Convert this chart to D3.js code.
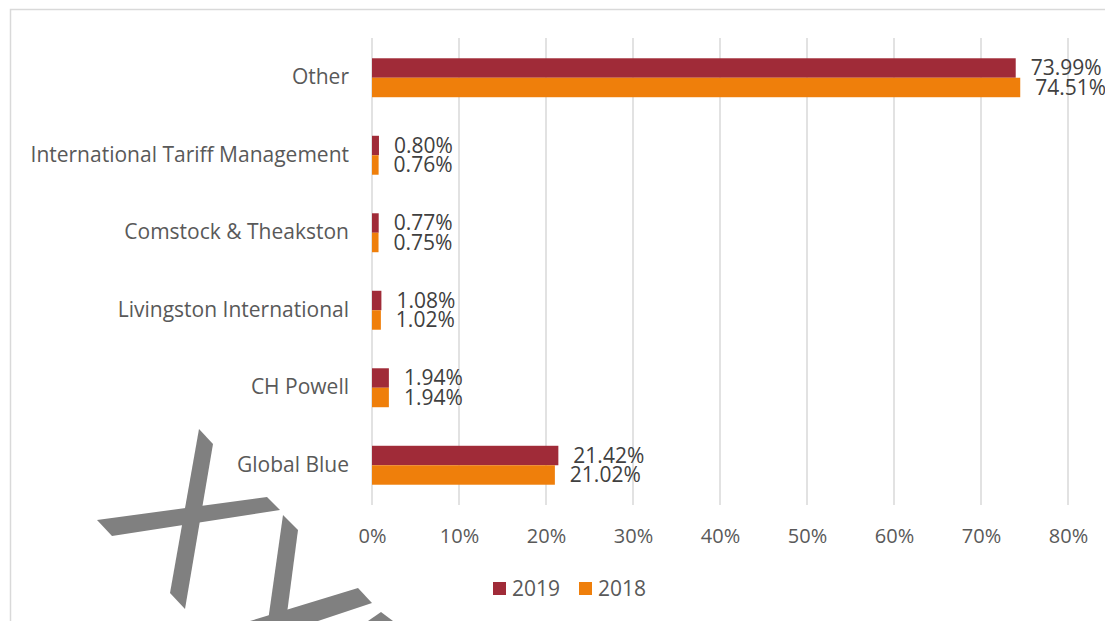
<!DOCTYPE html>
<html>
<head>
<meta charset="utf-8">
<script src="https://cdn.jsdelivr.net/npm/d3@7"></script>
<style>
  body { margin: 0; background: #fff; }
  svg { display: block; font-family: "Open Sans", "Noto Sans", sans-serif; }
</style>
</head>
<body>
<svg width="1105" height="621"></svg>
<script>
// chart values (percent)
const categories = ['Other', 'International Tariff Management', 'Comstock & Theakston',
    'Livingston International', 'CH Powell', 'Global Blue']
const years = ['2019', '2018']
const values2019 = [73.99, 0.80, 0.77, 1.08, 1.94, 21.42]
const values2018 = [74.51, 0.76, 0.75, 1.02, 1.94, 21.02]
const xTicks = [0, 10, 20, 30, 40, 50, 60, 70, 80]

const colors = { '2019': '#a02b38', '2018': '#ef7f0b' }

const svg = d3.select('svg')

// outer chart frame
svg.append('rect')
    .attr('x', 10.5).attr('y', 9.5)
    .attr('width', 1200).attr('height', 700)
    .attr('fill', 'none')
    .attr('stroke', '#d9d9d9')
    .attr('stroke-width', 1.5)

const x = d3.scaleLinear().domain([0, 80]).range([372, 1068])
const y = d3.scaleBand().domain(categories).range([39, 504])
const sub = d3.scaleBand().domain(years).range([0, y.bandwidth()])
    .paddingInner(0)
    .paddingOuter(0.99)

// gridlines
svg.append('g')
    .selectAll('line')
    .data(xTicks)
    .enter()
    .append('line')
    .attr('x1', d => x(d)).attr('x2', d => x(d))
    .attr('y1', 38).attr('y2', 505)
    .attr('stroke', '#d9d9d9')
    .attr('stroke-width', 1.5)

// x axis labels
const xAxis = d3.axisBottom(x).tickValues(xTicks).tickFormat(d => d + '%').tickSize(0).tickPadding(0)
const gx = svg.append('g').attr('transform', 'translate(0, 529)').call(xAxis)
gx.select('.domain').remove()
gx.selectAll('text')
    .attr('fill', '#595959')
    .attr('font-size', 20)
    .attr('font-family', '"Open Sans", sans-serif')

// category labels
const yAxis = d3.axisLeft(y).tickSize(0).tickPadding(0)
const gy = svg.append('g').attr('transform', 'translate(349, 0)').call(yAxis)
gy.select('.domain').remove()
gy.selectAll('text')
    .attr('fill', '#595959')
    .attr('font-size', 21)
    .attr('font-family', '"Open Sans", sans-serif')

const rows = categories.map((c, i) => ({
    category: c,
    bars: [
        { year: '2019', value: values2019[i] },
        { year: '2018', value: values2018[i] }
    ]
}))

const group = svg.append('g')
    .selectAll('g.row')
    .data(rows)
    .enter()
    .append('g')
    .attr('class', 'row')
    .attr('transform', d => `translate(0, ${y(d.category)})`)

group.selectAll('rect')
    .data(d => d.bars)
    .enter()
    .append('rect')
    .attr('x', x(0))
    .attr('y', d => sub(d.year))
    .attr('width', d => x(d.value) - x(0))
    .attr('height', sub.bandwidth())
    .attr('fill', d => colors[d.year])

group.selectAll('text')
    .data(d => d.bars)
    .enter()
    .append('text')
    .attr('x', d => x(d.value) + 15)
    .attr('y', d => sub(d.year) + sub.bandwidth() / 2)
    .attr('dy', '0.35em')
    .attr('fill', '#404040')
    .attr('font-size', 21)
    .text(d => d.value.toFixed(2) + '%')

// legend
const legend = svg.append('g').attr('transform', 'translate(493, 582)')
const legendItem = legend.selectAll('g')
    .data(years)
    .enter()
    .append('g')
    .attr('transform', (d, i) => `translate(${i * 86}, 0)`)
legendItem.append('rect')
    .attr('width', 13).attr('height', 13)
    .attr('fill', d => colors[d])
legendItem.append('text')
    .attr('x', 19).attr('y', 7)
    .attr('dy', '0.35em')
    .attr('fill', '#595959')
    .attr('font-size', 21)
    .text(d => d)

// grey watermark strokes
const marks = [
    [[199, 429], [213, 444], [185, 609], [170, 593]],
    [[97, 520], [267, 497], [280, 510], [112, 536]],
    [[283, 515], [298, 530], [286, 621], [268, 621]],
    [[250, 621], [358, 588], [372, 603], [318, 621]],
    [[368, 621], [381, 612], [393, 621]]
]
svg.append('g')
    .selectAll('path')
    .data(marks)
    .enter()
    .append('path')
    .attr('d', d => d3.line()(d) + 'Z')
    .attr('fill', '#808080')
</script>
</body>
</html>
